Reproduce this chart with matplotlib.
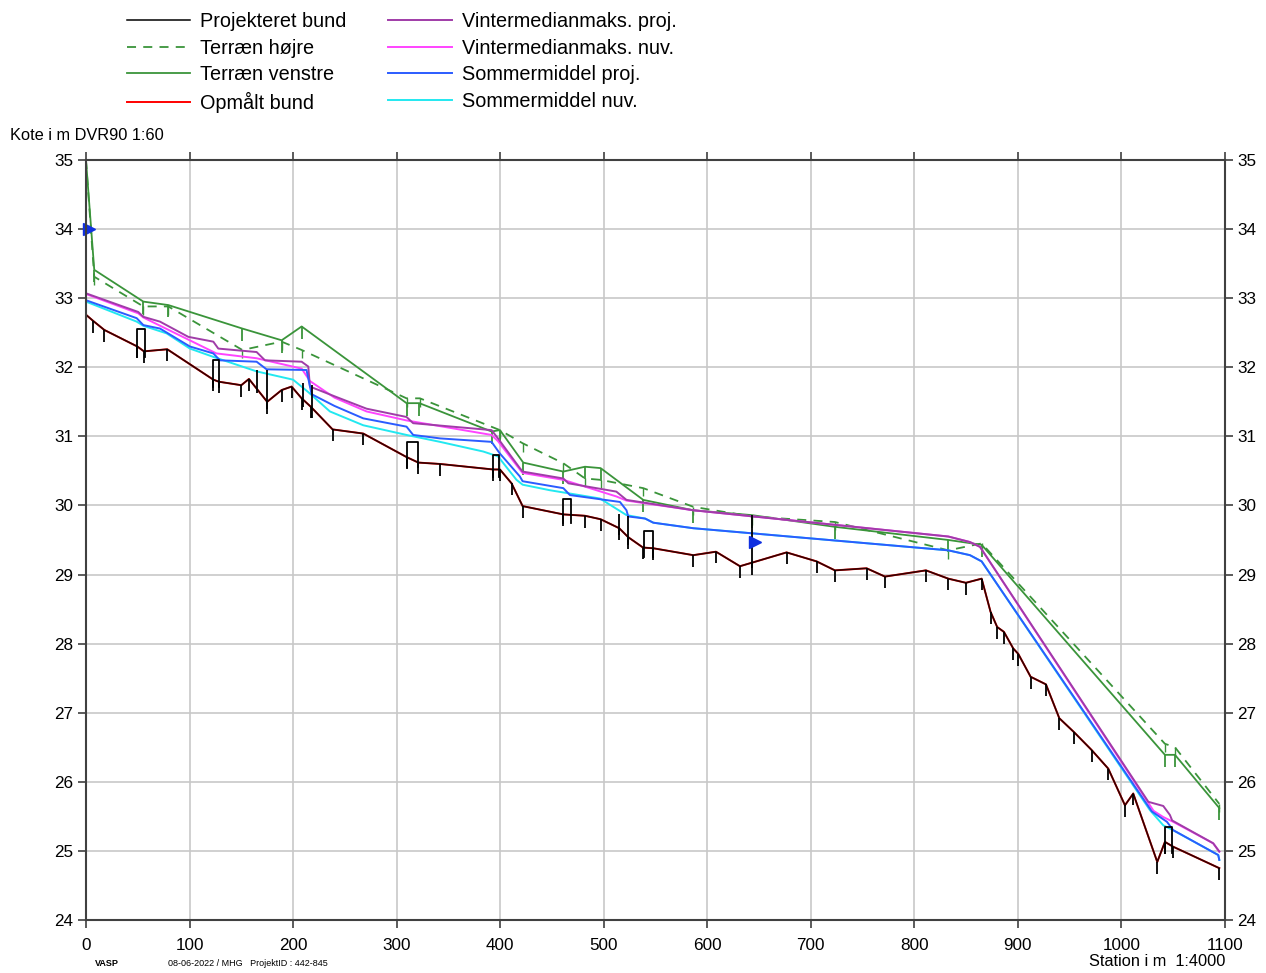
import matplotlib
matplotlib.use('Agg')
from matplotlib import pyplot as plt

#---------------------- DATA (station in m, kote in m DVR90)
bund_x = [0, 7, 17.7, 49.6, 56, 78.5, 123, 128.5, 150, 157.4, 175, 189, 198.6, 208.3, 217,
          238.2, 267.8, 309.6, 321, 341.9, 393.4, 399.8, 411, 421.7, 461, 482, 497, 515, 523.7,
          538, 547.9, 586.5, 608.4, 631.6, 642.9, 676.6, 705.6, 723.3, 753.9, 771.6, 811.2,
          832.8, 849.8, 865, 873.6, 880, 886.5, 895.5, 900.4, 912.3, 927.1, 940, 954.1, 971.2,
          987.3, 1003.4, 1011.4, 1034.6, 1042, 1050, 1094.5]
bund_y = [32.76, 32.67, 32.54, 32.30, 32.23, 32.26, 31.82, 31.79, 31.74, 31.83, 31.50, 31.67,
          31.72, 31.55, 31.43, 31.10, 31.04, 30.70, 30.62, 30.60, 30.52, 30.52, 30.32, 29.99,
          29.87, 29.85, 29.80, 29.67, 29.54, 29.39, 29.38, 29.28, 29.33, 29.12, 29.17, 29.32,
          29.19, 29.06, 29.09, 28.97, 29.06, 28.94, 28.88, 28.94, 28.46, 28.24, 28.17, 27.93,
          27.85, 27.52, 27.41, 26.92, 26.72, 26.46, 26.19, 25.66, 25.83, 24.84, 25.13, 25.06,
          24.75]

# terrain left bank (solid) and right bank (dashed)
tv_x = [0, 8, 55.4, 79.5, 151, 189, 208.3, 309.6, 322, 391.7, 399.8, 422.3, 461, 481.9, 497,
        538.2, 586.5, 642.8, 723.3, 832.8, 865, 1042, 1051.7, 1094.5]
tv_y = [35.0, 33.41, 32.95, 32.90, 32.56, 32.39, 32.59, 31.48, 31.48, 31.07, 31.09, 30.62,
        30.49, 30.56, 30.54, 30.08, 29.93, 29.86, 29.69, 29.50, 29.43, 26.39, 26.39, 25.62]
th_x = [0, 8, 55.4, 79.5, 151, 189, 208.3, 309.6, 322.5, 399.8, 421.7, 461, 482, 497, 538.2,
        586.5, 643, 723.3, 832.8, 865, 1042, 1051.7, 1094.5]
th_y = [35.0, 33.31, 32.88, 32.88, 32.25, 32.37, 32.25, 31.55, 31.55, 31.09, 30.90, 30.61,
        30.39, 30.37, 30.25, 29.98, 29.84, 29.76, 29.35, 29.45, 26.55, 26.50, 25.68]

# vintermedianmaks. projekteret / nuvaerende
vp_x = [0, 50.5, 55.4, 71.5, 98.8, 123, 127.8, 164.8, 172.9, 208.3, 214.7, 216.3, 240, 271,
        309.6, 316, 391.7, 397.9, 419, 421.7, 461, 465.9, 512.2, 522, 586.5, 832.8, 853.7,
        863.4, 1026, 1040.4, 1046.8, 1049, 1088.6, 1094.5]
vp_y = [33.07, 32.80, 32.73, 32.66, 32.44, 32.37, 32.27, 32.22, 32.10, 32.08, 32.01, 31.72,
        31.58, 31.40, 31.28, 31.19, 31.09, 30.97, 30.54, 30.49, 30.39, 30.32, 30.20, 30.08,
        29.93, 29.55, 29.47, 29.40, 25.71, 25.65, 25.52, 25.44, 25.11, 24.99]
vn_x = [0, 50.5, 55.4, 126, 164.8, 208.3, 216.3, 240, 271, 309.6, 391.7, 397.9, 419, 421.7,
        461, 512.2, 522, 586.5, 832.8, 853.7, 863.4, 1031, 1040.4, 1050, 1088.6, 1094.5]
vn_y = [33.06, 32.78, 32.72, 32.20, 32.13, 31.98, 31.80, 31.56, 31.36, 31.23, 31.02, 30.93,
        30.52, 30.47, 30.37, 30.13, 30.07, 29.93, 29.55, 29.47, 29.40, 25.58, 25.49, 25.42,
        25.11, 24.99]

# sommermiddel projekteret / nuvaerende
sp_x = [0, 49, 55.4, 71.5, 100.4, 123, 129.4, 164.8, 174.4, 213, 217.9, 240, 267.8, 309.6,
        316, 341.9, 391.7, 399.8, 419, 421.7, 461, 467.4, 515.7, 522, 523.7, 540, 547.9,
        586.5, 832.8, 853.7, 865, 1029.4, 1044, 1050, 1093.5, 1094.5]
sp_y = [32.97, 32.71, 32.61, 32.56, 32.30, 32.20, 32.10, 32.08, 31.97, 31.96, 31.61, 31.44,
        31.26, 31.14, 31.02, 30.97, 30.92, 30.75, 30.42, 30.35, 30.25, 30.15, 30.05, 29.93,
        29.84, 29.81, 29.75, 29.67, 29.35, 29.28, 29.19, 25.57, 25.42, 25.30, 24.94, 24.87]
sn_x = [0, 49, 55.4, 77.9, 100.4, 123, 164.8, 200, 214.7, 235.6, 267.8, 309.6, 341.9, 383.7,
        397.9, 415.8, 421.7, 448, 496.4, 522, 540, 547.9, 586.5, 832.8, 853.7, 865, 1027.5,
        1040.4, 1048.5, 1093.5, 1094.5]
sn_y = [32.95, 32.66, 32.60, 32.49, 32.27, 32.15, 31.94, 31.82, 31.64, 31.36, 31.16, 31.02,
        30.92, 30.78, 30.71, 30.37, 30.30, 30.22, 30.10, 29.86, 29.81, 29.75, 29.67, 29.35,
        29.28, 29.19, 25.59, 25.37, 25.31, 24.94, 24.87]

# culverts / structures (pairs drawn as a frame, singles as a bar)
frame_x1 = [49.6, 123, 310, 393, 461, 538.9, 1042]
frame_x2 = [57, 128, 321, 399, 468, 547.2, 1048.5]
frame_lo = [32.15, 31.72, 30.55, 30.41, 29.74, 29.26, 24.97]
frame_hi = [32.55, 32.10, 30.92, 30.73, 30.10, 29.63, 25.35]
bar_x = [164.8, 175, 209.8, 218, 515, 523, 642.8]
bar_lo = [31.62, 31.40, 31.43, 31.27, 29.57, 29.43, 29.09]
bar_hi = [31.96, 31.96, 31.77, 31.75, 29.88, 29.85, 29.86]

# water level markers
flag_x = [2.5, 646]
flag_y = [34.0, 29.47]

x_ticks = list(range(0, 1101, 100))
y_ticks = list(range(24, 36))

#---------------------- STYLE
plt.rcParams['font.family'] = ['Liberation Sans', 'DejaVu Sans']
GREEN = '#3a943a'
PURPLE = '#a03ca8'
MAGENTA = '#ff44ff'
BLUE = '#2b5cff'
CYAN = '#22e8f0'

fig = plt.figure(figsize=(12.66, 9.73), dpi=100)
ax = fig.add_axes([0.0679, 0.0545, 0.8997, 0.7811])

ax.grid(True, color='#c8c8c8', lw=1.2)
ax.set_axisbelow(True)

# terrain
ax.plot(th_x, th_y, color=GREEN, lw=1.3, ls=(0, (5, 4)), label='Terræn højre')
ax.plot(tv_x, tv_y, color=GREEN, lw=1.3, label='Terræn venstre')
ax.vlines(tv_x[1:], [y - 0.18 for y in tv_y[1:]], tv_y[1:], color=GREEN, lw=1.3)
ax.vlines(th_x[1:], [y - 0.12 for y in th_y[1:]], th_y[1:], color=GREEN, lw=1.0)

# water levels
ax.plot(vn_x, vn_y, color=MAGENTA, lw=1.4, label='Vintermedianmaks. nuv.')
ax.plot(vp_x, vp_y, color=PURPLE, lw=1.4, label='Vintermedianmaks. proj.')
ax.plot(sn_x, sn_y, color=CYAN, lw=1.4, label='Sommermiddel nuv.')
ax.plot(sp_x, sp_y, color=BLUE, lw=1.4, label='Sommermiddel proj.')

# bottom
ax.plot(bund_x, bund_y, color='red', lw=1.4, label='Opmålt bund')
ax.plot(bund_x, bund_y, color='black', lw=1.2, alpha=0.8)
ax.plot([], [], color='black', lw=1.1, label='Projekteret bund')
ax.vlines(bund_x[1:], [y - 0.17 for y in bund_y[1:]], bund_y[1:], color='black', lw=1.3)

for x1, x2, lo, hi in zip(frame_x1, frame_x2, frame_lo, frame_hi):
    ax.plot([x1, x1, x2, x2], [lo, hi, hi, lo], color='black', lw=1.3)
ax.vlines(bar_x, bar_lo, bar_hi, color='black', lw=1.3)
ax.plot(flag_x, flag_y, ls='none', marker='>', color='#1030e0', ms=9, clip_on=False)

ax.set_xlim(0, 1100)
ax.set_ylim(24, 35)
ax.set_xticks(x_ticks)
ax.set_yticks(y_ticks)
ax.tick_params(axis='both', direction='out', length=6, width=1.2, color='#404040',
               labelsize=12.3, pad=3, top=True, right=True, labelright=True)
ax.tick_params(axis='x', pad=7)
for s in ax.spines.values():
    s.set_color('#404040')
    s.set_linewidth(1.5)

# legend
h, l = ax.get_legend_handles_labels()
order = ['Projekteret bund', 'Terræn højre', 'Terræn venstre', 'Opmålt bund',
         'Vintermedianmaks. proj.', 'Vintermedianmaks. nuv.', 'Sommermiddel proj.',
         'Sommermiddel nuv.']
hd = dict(zip(l, h))
fig.legend([hd[k] for k in order], order, ncol=2, loc='upper left',
           bbox_to_anchor=(0.086, 1.006), frameon=False, fontsize=14.3,
           handlelength=3.2, handletextpad=0.5, columnspacing=2.1, labelspacing=0.38)

fig.text(10 / 1266, 1 - 135 / 973, 'Kote i m DVR90 1:60', fontsize=11.8, va='center')
fig.text(1225 / 1266, 1 - 961 / 973, 'Station i m  1:4000', fontsize=11.8, va='center', ha='right')
fig.text(95 / 1266, 1 - 964 / 973, 'VASP', fontsize=6.5, weight='bold', va='center')
fig.text(168 / 1266, 1 - 964 / 973, '08-06-2022 / MHG   ProjektID : 442-845', fontsize=6.5,
         va='center')

plt.savefig('out.png', dpi=100)
